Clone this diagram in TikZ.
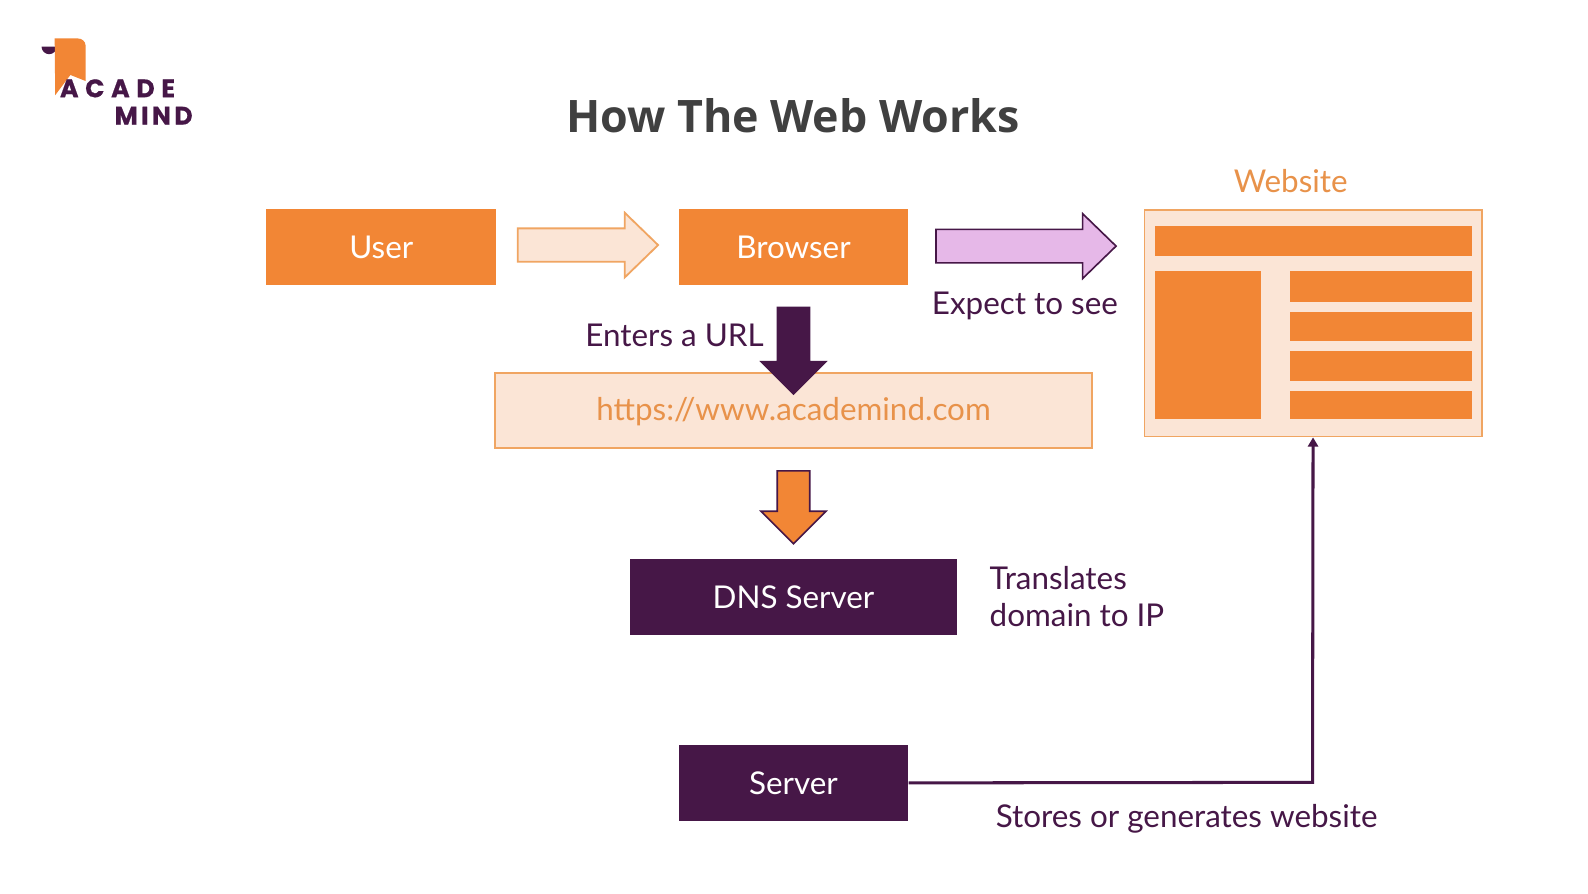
\documentclass[tikz,border=0pt]{standalone}
\usepackage{fontspec}
\setmainfont{Lato}
\newfontfamily\titlefont{Open Sans}
\newfontfamily\logofonta[LetterSpace=26,FakeBold=0.6]{Poppins}
\newfontfamily\logofontb[LetterSpace=13,FakeBold=0.6]{Poppins}
\usetikzlibrary{calc,arrows.meta}
\definecolor{acOrange}{HTML}{F28635}
\definecolor{acPeach}{HTML}{FBE5D6}
\definecolor{acEdge}{HTML}{F0A562}
\definecolor{acPurple}{HTML}{461747}
\definecolor{acLilac}{HTML}{E6B8E8}
\definecolor{acTitle}{HTML}{404040}
\definecolor{acLabel}{HTML}{E8924A}
\tikzset{
  boxnode/.style n args={4}{draw=#3,fill=#4,minimum width=#1,minimum height=#2,inner sep=0pt,line width=1.8pt,anchor=center},
  solidbox/.style n args={3}{draw=none,fill=#3,minimum width=#1,minimum height=#2,inner sep=0pt,anchor=center},
  bodyfont/.style={font=\fontsize{31}{34}\selectfont},
  whitetext/.style={text=white,bodyfont},
  lbl/.style={text=acPurple,bodyfont,inner sep=0pt},
  blockright/.style={to path={let \p1=(\tikztostart),\p2=(\tikztotarget) in
     (\x1,\y1+16.5pt) -- (\x2-33pt,\y1+16.5pt) -- (\x2-33pt,\y1+32pt) -- (\x2,\y1)
     -- (\x2-33pt,\y1-32pt) -- (\x2-33pt,\y1-16.5pt) -- (\x1,\y1-16.5pt) -- cycle}},
  blockdown/.style={to path={let \p1=(\tikztostart),\p2=(\tikztotarget) in
     (\x1-16pt,\y1) -- (\x1-16pt,\y2+32pt) -- (\x1-32pt,\y2+32pt) -- (\x1,\y2)
     -- (\x1+32pt,\y2+32pt) -- (\x1+16pt,\y2+32pt) -- (\x1+16pt,\y1) -- cycle}},
  piece/.style={fill=acOrange,draw=none},
}
\begin{document}
\begin{tikzpicture}[x=1pt,y=-1pt]
\useasboundingbox (0,0) rectangle (1568,881.8);
\fill[white] (0,0) rectangle (1568,881.8);
% logo
\fill[acPurple] (41,46) arc[start angle=180,end angle=0,x radius=7.5,y radius=7.5] -- cycle;
\fill[acOrange] (54,38) -- (77,38) to[out=0,in=90] (84.5,45) -- (84.5,80) -- (69.5,74) -- (54.5,94) -- cycle;
\node[inner sep=0pt,anchor=base west,text=acPurple,font=\logofonta\bfseries\fontsize{25}{25}\selectfont] (acade) at (59,96) {ACADE};
\node[inner sep=0pt,anchor=base west,text=acPurple,font=\logofontb\bfseries\fontsize{25}{25}\selectfont] (mind) at (113,123) {MIND};
% title
\node[inner sep=0pt,text=acTitle,font=\titlefont\bfseries\fontsize{44.2}{48}\selectfont] (title) at (783,114.5) {How The Web Works};
% main boxes
\node[solidbox={227}{74.5}{acOrange},whitetext] (user) at (376.5,244) {User};
\node[solidbox={227}{74.5}{acOrange},whitetext] (browser) at (783.5,244) {Browser};
\node[boxnode={589}{74}{acEdge}{acPeach},text=acLabel,bodyfont,text height=26pt,text depth=6pt] (url) at (783.5,405) {https://www.academind.com};
\node[solidbox={323}{75}{acPurple},whitetext] (dns) at (783.5,589.5) {DNS Server};
\node[solidbox={227}{74.5}{acPurple},whitetext] (server) at (783.5,773) {Server};
% website
\node[boxnode={333}{224}{acEdge}{acPeach}] (website) at (1296.5,319) {};
\node[lbl,text=acLabel] (weblabel) at (1274.5,179) {Website};
\fill[piece] (1140,223) rectangle (1453,253);
\fill[piece] (1140,268) rectangle (1245,414);
\fill[piece] (1274,268) rectangle (1453,298);
\fill[piece] (1274,308) rectangle (1453,337);
\fill[piece] (1274,347) rectangle (1453,376);
\fill[piece] (1274,386) rectangle (1453,414);
% block arrows
\draw[blockright,fill=acPeach,draw=acEdge,line width=1.8pt] ($(user.east)+(21,-2)$) to ($(browser.west)+(-20,-2)$);
\draw[blockright,fill=acLilac,draw=acPurple,line width=1.6pt] ($(browser.east)+(27,-1)$) to (1102,243);
\draw[blockdown,fill=acPurple,draw=acPurple,line width=1.4pt] ($(browser.south)+(0,22)$) to ($(url.north)+(0,22)$);
\draw[blockdown,fill=acOrange,draw=acPurple,line width=1.6pt] ($(url.south)+(0,22)$) to ($(dns.north)+(0,-15)$);
% connector
\draw[acPurple,line width=3pt,-{Triangle[length=9pt,width=10pt]}] (server.east) -- (1296,772.5) -- (website.south);
% labels
\node[lbl,anchor=center] (expect) at (1012,302.5) {Expect to see};
\node[lbl,anchor=center] (enters) at (666,331) {Enters a URL};
\node[lbl,anchor=west] (trans1) at (977,571) {Translates};
\node[lbl,anchor=west] (trans2) at (977,607) {domain to IP};
\node[lbl,anchor=west] (stores) at (983,808) {Stores or generates website};
\end{tikzpicture}
\end{document}
